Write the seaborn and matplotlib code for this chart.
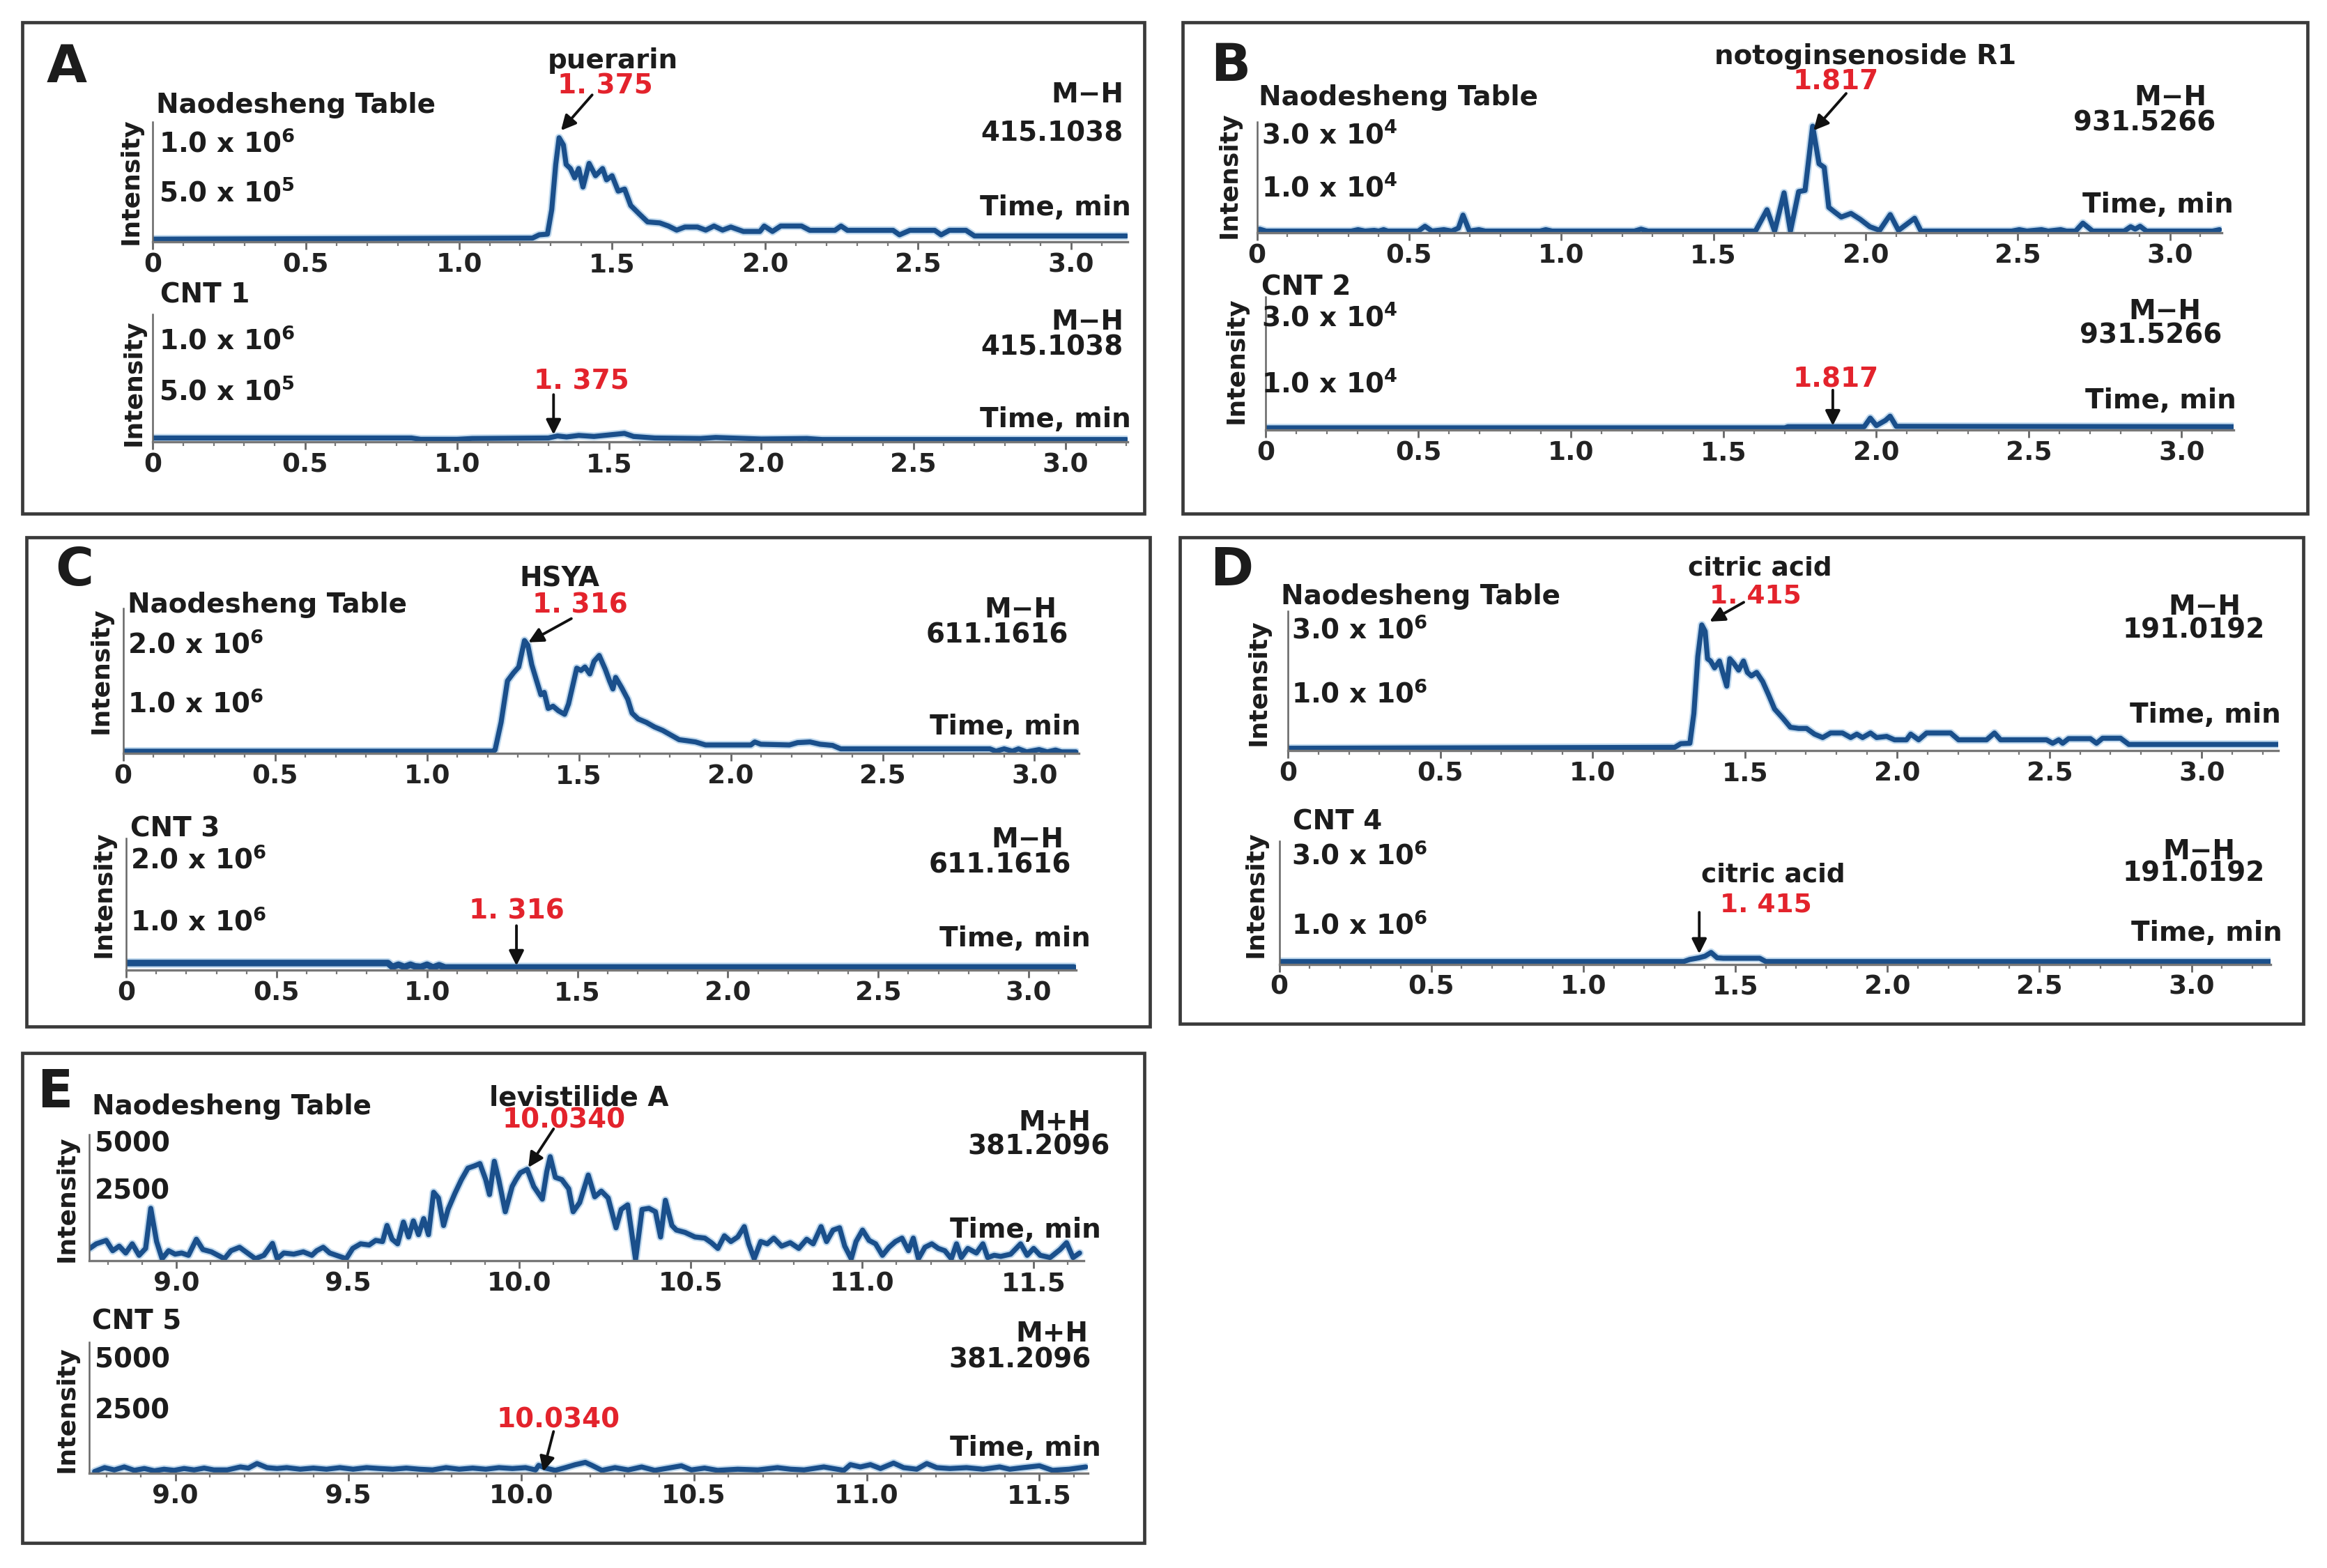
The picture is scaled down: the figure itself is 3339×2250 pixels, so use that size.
import matplotlib
matplotlib.use("Agg")
import matplotlib.pyplot as plt
import matplotlib.transforms as mtransforms
from matplotlib.patches import Rectangle
from matplotlib.ticker import MultipleLocator
import pandas as pd
import seaborn as sns

# ---------------- data (time in min, intensity in units of the axis labels) ----------------
XT_MAIN = [0, 0.5, 1.0, 1.5, 2.0, 2.5, 3.0]
XL_MAIN = ["0", "0.5", "1.0", "1.5", "2.0", "2.5", "3.0"]
XT_E = [9.0, 9.5, 10.0, 10.5, 11.0, 11.5]
XL_E = ["9.0", "9.5", "10.0", "10.5", "11.0", "11.5"]

# A: puerarin (x10^6)
A_TOP = [(0, 0.012), (1.24, 0.022), (1.262, 0.054), (1.289, 0.061), (1.303, 0.30), (1.316, 0.74),
         (1.327, 1.00), (1.341, 0.93), (1.350, 0.74), (1.364, 0.70), (1.378, 0.61), (1.391, 0.70),
         (1.405, 0.52), (1.425, 0.75), (1.446, 0.63), (1.469, 0.70), (1.482, 0.59), (1.500, 0.63),
         (1.520, 0.48), (1.541, 0.50), (1.561, 0.34), (1.588, 0.26), (1.616, 0.18), (1.656, 0.17),
         (1.684, 0.14), (1.711, 0.10), (1.738, 0.13), (1.779, 0.13), (1.806, 0.10), (1.833, 0.14),
         (1.861, 0.10), (1.888, 0.13), (1.929, 0.087), (1.983, 0.087), (1.997, 0.14), (2.024, 0.087),
         (2.051, 0.14), (2.119, 0.14), (2.146, 0.098), (2.228, 0.098), (2.248, 0.14), (2.269, 0.098),
         (2.418, 0.098), (2.439, 0.054), (2.473, 0.098), (2.554, 0.098), (2.575, 0.054), (2.602, 0.098),
         (2.656, 0.098), (2.684, 0.043), (3.18, 0.043)]
A_BOT = [(0, 0.025), (0.85, 0.025), (0.88, 0.012), (1.0, 0.012), (1.05, 0.02), (1.3, 0.025),
         (1.33, 0.045), (1.36, 0.035), (1.4, 0.05), (1.45, 0.04), (1.5, 0.055), (1.55, 0.07),
         (1.58, 0.04), (1.65, 0.025), (1.8, 0.02), (1.85, 0.03), (2.0, 0.015), (2.15, 0.02),
         (2.2, 0.01), (3.2, 0.01)]

# B: notoginsenoside R1 (x10^4)
B_TOP = [(0, 0.014), (0.0085, 0.069), (0.03, 0.014), (0.31, 0.014), (0.332, 0.055), (0.355, 0.014),
         (0.385, 0.034), (0.40, 0.014), (0.416, 0.055), (0.43, 0.014), (0.53, 0.014), (0.552, 0.152),
         (0.575, 0.014), (0.614, 0.055), (0.64, 0.014), (0.662, 0.10), (0.677, 0.469), (0.698, 0.014),
         (0.729, 0.055), (0.75, 0.014), (0.93, 0.014), (0.949, 0.055), (0.97, 0.014), (1.24, 0.014),
         (1.262, 0.069), (1.285, 0.014), (1.638, 0.014), (1.676, 0.621), (1.701, 0.014), (1.732, 1.103),
         (1.753, 0.014), (1.780, 1.138), (1.801, 1.172), (1.826, 3.0), (1.847, 1.931), (1.864, 1.828),
         (1.879, 0.690), (1.899, 0.552), (1.920, 0.414), (1.952, 0.517), (1.983, 0.345), (2.014, 0.138),
         (2.046, 0.034), (2.081, 0.483), (2.108, 0.034), (2.161, 0.379), (2.182, 0.014), (2.48, 0.014),
         (2.505, 0.055), (2.53, 0.014), (2.578, 0.055), (2.60, 0.014), (2.641, 0.055), (2.66, 0.014),
         (2.69, 0.014), (2.714, 0.241), (2.746, 0.014), (2.85, 0.014), (2.871, 0.138), (2.886, 0.07),
         (2.902, 0.152), (2.923, 0.014), (3.14, 0.014), (3.163, 0.055)]
B_BOT = [(0, 0.02), (1.70, 0.02), (1.71, 0.05), (1.96, 0.05), (1.98, 0.28), (2.00, 0.08),
         (2.03, 0.22), (2.045, 0.33), (2.065, 0.06), (3.17, 0.05)]

# C: HSYA (x10^6)
C_TOP = [(0, 0.012), (1.217, 0.012), (1.224, 0.033), (1.244, 0.53), (1.265, 1.275), (1.285, 1.42),
         (1.302, 1.524), (1.321, 2.0), (1.332, 1.917), (1.345, 1.565), (1.361, 1.275), (1.375, 1.027),
         (1.386, 1.068), (1.399, 0.78), (1.415, 0.82), (1.433, 0.737), (1.453, 0.675), (1.466, 0.861),
         (1.480, 1.193), (1.493, 1.503), (1.507, 1.462), (1.520, 1.524), (1.536, 1.40), (1.550, 1.627),
         (1.567, 1.731), (1.587, 1.482), (1.601, 1.275), (1.612, 1.13), (1.621, 1.337), (1.641, 1.151),
         (1.661, 0.944), (1.675, 0.696), (1.695, 0.592), (1.722, 0.53), (1.749, 0.447), (1.776, 0.385),
         (1.803, 0.302), (1.830, 0.219), (1.857, 0.199), (1.884, 0.178), (1.917, 0.124), (2.005, 0.124),
         (2.066, 0.124), (2.079, 0.178), (2.099, 0.137), (2.193, 0.124), (2.220, 0.166), (2.261, 0.178),
         (2.294, 0.137), (2.335, 0.116), (2.362, 0.054), (2.853, 0.054), (2.873, 0.012), (2.900, 0.054),
         (2.927, 0.012), (2.947, 0.054), (2.974, 0.0), (3.015, 0.041), (3.042, 0.0), (3.069, 0.033),
         (3.089, 0.0), (3.136, 0.0)]
C_BOT = [(0, 0.10), (0.87, 0.10), (0.885, 0.03), (0.905, 0.07), (0.925, 0.03), (0.945, 0.07),
         (0.96, 0.04), (0.98, 0.03), (1.0, 0.07), (1.02, 0.02), (1.04, 0.06), (1.06, 0.02), (3.15, 0.02)]

# D: citric acid (x10^6)
D_TOP = [(0, 0.017), (1.269, 0.039), (1.289, 0.127), (1.319, 0.138), (1.332, 0.853), (1.345, 2.229),
         (1.358, 2.989), (1.369, 2.835), (1.377, 2.174), (1.387, 2.119), (1.400, 1.954), (1.416, 2.119),
         (1.429, 1.789), (1.440, 1.514), (1.450, 2.174), (1.463, 2.064), (1.479, 1.899), (1.495, 2.119),
         (1.508, 1.844), (1.521, 1.761), (1.538, 1.844), (1.558, 1.624), (1.578, 1.294), (1.597, 0.963),
         (1.624, 0.743), (1.649, 0.523), (1.676, 0.495), (1.702, 0.495), (1.728, 0.358), (1.755, 0.275),
         (1.781, 0.385), (1.820, 0.385), (1.847, 0.275), (1.867, 0.358), (1.886, 0.275), (1.912, 0.385),
         (1.932, 0.275), (1.965, 0.303), (1.991, 0.220), (2.030, 0.220), (2.044, 0.358), (2.070, 0.220),
         (2.096, 0.385), (2.175, 0.385), (2.201, 0.220), (2.293, 0.220), (2.319, 0.385), (2.339, 0.220),
         (2.490, 0.220), (2.510, 0.138), (2.530, 0.220), (2.543, 0.138), (2.562, 0.248), (2.634, 0.248),
         (2.654, 0.138), (2.674, 0.259), (2.733, 0.259), (2.760, 0.110), (3.25, 0.110)]
D_BOT = [(0, 0.03), (1.33, 0.03), (1.35, 0.08), (1.38, 0.12), (1.40, 0.16), (1.42, 0.25),
         (1.44, 0.12), (1.46, 0.11), (1.58, 0.11), (1.60, 0.03), (3.26, 0.03)]

# E: levistilide A (counts)
E_TOP = [(8.747, 442), (8.766, 626), (8.795, 764), (8.814, 350), (8.833, 534), (8.852, 258),
         (8.871, 626), (8.891, 166), (8.910, 442), (8.925, 2052), (8.942, 718), (8.958, 28),
         (8.977, 350), (8.996, 212), (9.015, 258), (9.035, 166), (9.058, 810), (9.077, 396),
         (9.102, 304), (9.121, 166), (9.140, 28), (9.159, 350), (9.184, 488), (9.207, 258),
         (9.230, 28), (9.255, 166), (9.280, 644), (9.294, 28), (9.313, 258), (9.342, 212),
         (9.370, 304), (9.395, 166), (9.409, 350), (9.428, 488), (9.447, 258), (9.466, 166),
         (9.495, 28), (9.514, 442), (9.537, 626), (9.562, 580), (9.581, 764), (9.601, 718),
         (9.614, 1362), (9.629, 810), (9.645, 626), (9.662, 1500), (9.677, 902), (9.691, 1546),
         (9.706, 994), (9.721, 1638), (9.735, 994), (9.750, 2696), (9.764, 2466), (9.779, 1362),
         (9.792, 2006), (9.812, 2650), (9.831, 3202), (9.850, 3662), (9.869, 3754), (9.885, 3846),
         (9.902, 3202), (9.913, 2604), (9.927, 3938), (9.940, 3202), (9.959, 1914), (9.979, 2926),
         (9.990, 3202), (10.003, 3478), (10.023, 3616), (10.042, 2926), (10.067, 2420), (10.080, 3524),
         (10.090, 4122), (10.105, 3294), (10.124, 3202), (10.144, 2834), (10.157, 1914), (10.176, 2282),
         (10.201, 3386), (10.220, 2512), (10.239, 2742), (10.259, 2466), (10.282, 1270), (10.297, 2006),
         (10.316, 2190), (10.339, 0), (10.358, 2006), (10.378, 2052), (10.397, 1914), (10.412, 902),
         (10.426, 2374), (10.445, 1362), (10.458, 1178), (10.483, 1086), (10.512, 902), (10.541, 856),
         (10.560, 672), (10.579, 442), (10.598, 948), (10.617, 718), (10.637, 902), (10.656, 1316),
         (10.669, 626), (10.685, 28), (10.704, 718), (10.723, 626), (10.742, 856), (10.765, 534),
         (10.790, 672), (10.815, 442), (10.838, 810), (10.857, 626), (10.880, 1316), (10.896, 718),
         (10.915, 1178), (10.934, 1270), (10.949, 534), (10.968, 28), (10.982, 718), (11.001, 1178),
         (11.020, 764), (11.039, 626), (11.059, 166), (11.078, 488), (11.097, 718), (11.116, 856),
         (11.135, 350), (11.149, 856), (11.164, 28), (11.183, 488), (11.203, 626), (11.222, 442),
         (11.241, 350), (11.260, 28), (11.275, 626), (11.289, 74), (11.308, 442), (11.333, 258),
         (11.352, 626), (11.366, 74), (11.385, 166), (11.404, 120), (11.433, 212), (11.462, 626),
         (11.481, 166), (11.500, 442), (11.519, 166), (11.548, 74), (11.577, 396), (11.596, 672),
         (11.615, 74), (11.634, 258)]
E_BOT = [(8.766, 0), (8.795, 156), (8.823, 64), (8.852, 184), (8.881, 46), (8.910, 120), (8.939, 28),
         (8.967, 92), (8.996, 46), (9.025, 120), (9.054, 64), (9.083, 138), (9.111, 64), (9.150, 64),
         (9.188, 184), (9.211, 138), (9.236, 322), (9.265, 156), (9.294, 120), (9.322, 156), (9.361, 92),
         (9.399, 138), (9.437, 92), (9.476, 156), (9.514, 92), (9.553, 156), (9.591, 120), (9.629, 92),
         (9.668, 138), (9.706, 92), (9.744, 64), (9.783, 156), (9.821, 92), (9.860, 138), (9.898, 92),
         (9.936, 156), (9.975, 120), (10.013, 156), (10.042, 64), (10.051, 248), (10.071, 138),
         (10.099, 46), (10.128, 156), (10.157, 276), (10.186, 368), (10.205, 248), (10.234, 46),
         (10.272, 156), (10.310, 64), (10.349, 184), (10.387, 46), (10.426, 138), (10.464, 230),
         (10.493, 64), (10.531, 138), (10.569, 46), (10.627, 92), (10.685, 64), (10.742, 156),
         (10.780, 92), (10.819, 64), (10.876, 184), (10.934, 46), (10.953, 276), (10.982, 184),
         (11.011, 276), (11.040, 120), (11.078, 340), (11.107, 156), (11.145, 92), (11.174, 322),
         (11.203, 156), (11.241, 120), (11.289, 156), (11.337, 92), (11.385, 184), (11.414, 92),
         (11.452, 156), (11.500, 230), (11.538, 46), (11.586, 92), (11.634, 184)]

# ---------------- style ----------------
sns.set_theme(style="white")
plt.rcParams["font.family"] = ["DejaVu Sans"]
plt.rcParams["font.weight"] = "bold"
plt.rcParams["mathtext.fontset"] = "dejavusans"
plt.rcParams["mathtext.default"] = "bf"

LINE = "#1a4f8b"
HALO = "#a9cbe8"
RED = "#e3232c"
TXT = "#1c1c1c"
FS = 14

W, H = 1568.0, 1057.0
fig = plt.figure(figsize=(3339 / 200, 2250 / 200), dpi=200)
fig.patch.set_facecolor("white")
PX = mtransforms.Affine2D().scale(1 / W, -1 / H).translate(0, 1) + fig.transFigure


def txt(x, y, s, ha="left", color=TXT, size=FS, **kw):
    fig.text(x, y, s, transform=PX, ha=ha, va="center", color=color, fontsize=size,
             fontweight="bold", **kw)


def box(l, t, r, b):
    fig.add_artist(Rectangle((l / W, 1 - b / H), (r - l) / W, (b - t) / H,
                             transform=fig.transFigure, fill=False, lw=1.7, ec="#3a3a3a"))


def arrow(tail, head):
    fig.add_artist(matplotlib.patches.FancyArrowPatch(
        tail, head, transform=PX, arrowstyle="-|>", mutation_scale=16,
        color="#111111", lw=1.4, shrinkA=0, shrinkB=0))


def trace(rect, xlim, ymax, data, xt, xl, lw=2.6):
    l, t, r, b = rect
    ax = fig.add_axes([l / W, 1 - b / H, (r - l) / W, (b - t) / H])
    df = pd.DataFrame(data, columns=["time", "intensity"])
    sns.lineplot(data=df, x="time", y="intensity", ax=ax, color=HALO, linewidth=lw + 1.6,
                 estimator=None, sort=False, legend=False, alpha=0.7)
    sns.lineplot(data=df, x="time", y="intensity", ax=ax, color=LINE, linewidth=lw,
                 estimator=None, sort=False, legend=False)
    ax.set_xlim(*xlim)
    ax.set_ylim(-0.012 * ymax, ymax)
    ax.patch.set_alpha(0)
    for s in ["top", "right"]:
        ax.spines[s].set_visible(False)
    ax.spines["left"].set_color("#666666")
    ax.spines["left"].set_linewidth(0.9)
    ax.spines["bottom"].set_color("#777777")
    ax.spines["bottom"].set_linewidth(1.2)
    ax.set_xticks(xt)
    ax.set_xticklabels(xl)
    ax.xaxis.set_minor_locator(MultipleLocator(0.1))
    ax.tick_params(axis="x", which="major", length=4, width=1.0, color="#666666", pad=1.5,
                   labelsize=13.5, labelcolor="#222222", bottom=True)
    ax.tick_params(axis="x", which="minor", length=2.2, width=0.8, color="#777777", bottom=True)
    ax.set_yticks([])
    ax.set_xlabel("")
    ax.set_ylabel("")
    for lab in ax.get_xticklabels():
        lab.set_fontweight("bold")
    return ax


# ---------------- panel boxes ----------------
box(15, 15, 771, 346)
box(797, 15, 1555, 346)
box(18, 362, 775, 692)
box(795, 362, 1552, 690)
box(15, 710, 771, 1040)

# ---------------- panel A ----------------
trace((103, 82, 760, 163), (0, 3.185), 1.157, A_TOP, XT_MAIN, XL_MAIN)
trace((103, 212, 760, 298), (0, 3.205), 1.23, A_BOT, XT_MAIN, XL_MAIN)
txt(45, 46, "A", ha="center", size=27)
txt(413, 41, "puerarin", ha="center")
txt(408, 58, "1. 375", ha="center", color=RED)
arrow((399, 64), (378, 88))
txt(105, 71, "Naodesheng Table")
txt(757, 64, "M\u2212H", ha="right")
txt(757, 90, "415.1038", ha="right")
txt(762, 140, "Time, min", ha="right")
txt(107, 97, r"1.0 x 10$^6$")
txt(107, 130, r"5.0 x 10$^5$")
txt(88, 122, "Intensity", ha="center", size=13, rotation=90)
txt(108, 199, "CNT 1")
txt(107, 230, r"1.0 x 10$^6$")
txt(107, 264, r"5.0 x 10$^5$")
txt(757, 217, "M\u2212H", ha="right")
txt(757, 234, "415.1038", ha="right")
txt(762, 283, "Time, min", ha="right")
txt(392, 257, "1. 375", ha="center", color=RED)
arrow((373, 266), (373, 293))
txt(90, 258, "Intensity", ha="center", size=13, rotation=90)

# ---------------- panel B ----------------
trace((847, 82, 1497, 157), (0, 3.17), 3.13, B_TOP, XT_MAIN, XL_MAIN)
trace((853, 200, 1505, 290), (0, 3.17), 3.5, B_BOT, XT_MAIN, XL_MAIN)
txt(829, 45, "B", ha="center", size=27)
txt(1257, 38, "notoginsenoside R1", ha="center")
txt(1237, 55, "1.817", ha="center", color=RED)
arrow((1244, 63), (1222, 88))
txt(848, 66, "Naodesheng Table")
txt(1487, 66, "M\u2212H", ha="right")
txt(1493, 83, "931.5266", ha="right")
txt(1505, 138, "Time, min", ha="right")
txt(850, 91, r"3.0 x 10$^4$")
txt(850, 127, r"1.0 x 10$^4$")
txt(828, 118, "Intensity", ha="center", size=13, rotation=90)
txt(850, 194, "CNT 2")
txt(850, 214, r"3.0 x 10$^4$")
txt(850, 259, r"1.0 x 10$^4$")
txt(1483, 210, "M\u2212H", ha="right")
txt(1497, 226, "931.5266", ha="right")
txt(1507, 270, "Time, min", ha="right")
txt(1237, 256, "1.817", ha="center", color=RED)
arrow((1235, 263), (1235, 287))
txt(833, 243, "Intensity", ha="center", size=13, rotation=90)

# ---------------- panel C ----------------
trace((83, 410, 727, 508), (0, 3.146), 2.58, C_TOP, XT_MAIN, XL_MAIN)
trace((85, 565, 725, 654), (0, 3.157), 2.34, C_BOT, XT_MAIN, XL_MAIN, lw=3.4)
txt(50, 385, "C", ha="center", size=27)
txt(377, 390, "HSYA", ha="center")
txt(391, 408, "1. 316", ha="center", color=RED)
arrow((385, 417), (356, 433))
txt(86, 408, "Naodesheng Table")
txt(712, 411, "M\u2212H", ha="right")
txt(720, 428, "611.1616", ha="right")
txt(728, 490, "Time, min", ha="right")
txt(86, 435, r"2.0 x 10$^6$")
txt(86, 475, r"1.0 x 10$^6$")
txt(68, 452, "Intensity", ha="center", size=13, rotation=90)
txt(88, 559, "CNT 3")
txt(88, 580, r"2.0 x 10$^6$")
txt(88, 622, r"1.0 x 10$^6$")
txt(717, 566, "M\u2212H", ha="right")
txt(722, 583, "611.1616", ha="right")
txt(735, 633, "Time, min", ha="right")
txt(348, 614, "1. 316", ha="center", color=RED)
arrow((348, 624), (348, 651))
txt(70, 603, "Intensity", ha="center", size=13, rotation=90)

# ---------------- panel D ----------------
trace((868, 412, 1535, 506), (0, 3.25), 3.32, D_TOP, XT_MAIN, XL_MAIN)
trace((862, 567, 1530, 650), (0, 3.26), 2.95, D_BOT, XT_MAIN, XL_MAIN)
txt(830, 385, "D", ha="center", size=27)
txt(1186, 383, "citric acid", ha="center", size=13.5)
txt(1183, 402, "1. 415", ha="center", color=RED, size=13.5)
arrow((1175, 406), (1152, 419))
txt(863, 402, "Naodesheng Table")
txt(1510, 409, "M\u2212H", ha="right")
txt(1526, 425, "191.0192", ha="right")
txt(1537, 482, "Time, min", ha="right")
txt(870, 425, r"3.0 x 10$^6$")
txt(870, 468, r"1.0 x 10$^6$")
txt(848, 460, "Intensity", ha="center", size=13, rotation=90)
txt(871, 554, "CNT 4")
txt(870, 577, r"3.0 x 10$^6$")
txt(870, 624, r"1.0 x 10$^6$")
txt(1506, 574, "M\u2212H", ha="right")
txt(1526, 589, "191.0192", ha="right")
txt(1195, 590, "citric acid", ha="center", size=13.5)
txt(1190, 610, "1. 415", ha="center", color=RED, size=13.5)
txt(1538, 629, "Time, min", ha="right")
arrow((1145, 615), (1145, 643))
txt(846, 603, "Intensity", ha="center", size=13, rotation=90)

# ---------------- panel E ----------------
trace((60, 765, 730, 850), (8.745, 11.645), 5000, E_TOP, XT_E, XL_E)
trace((60, 905, 733, 993), (8.75, 11.64), 5200, E_BOT, XT_E, XL_E)
txt(37, 737, "E", ha="center", size=27)
txt(62, 746, "Naodesheng Table")
txt(390, 740, "levistilide A", ha="center")
txt(380, 755, "10.0340", ha="center", color=RED)
arrow((373, 761), (356, 787))
txt(735, 757, "M+H", ha="right")
txt(748, 773, "381.2096", ha="right")
txt(742, 829, "Time, min", ha="right")
txt(64, 771, "5000")
txt(64, 803, "2500")
txt(45, 808, "Intensity", ha="center", size=13, rotation=90)
txt(62, 891, "CNT 5")
txt(64, 917, "5000")
txt(64, 951, "2500")
txt(733, 899, "M+H", ha="right")
txt(735, 917, "381.2096", ha="right")
txt(742, 976, "Time, min", ha="right")
txt(376, 957, "10.0340", ha="center", color=RED)
arrow((373, 965), (366, 992))
txt(45, 950, "Intensity", ha="center", size=13, rotation=90)

fig.savefig("out.png", dpi=200, facecolor="white")
